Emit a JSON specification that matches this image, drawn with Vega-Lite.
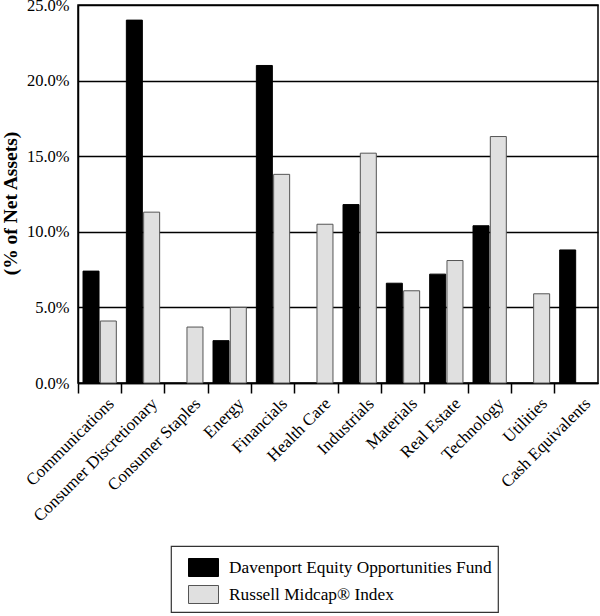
{
  "$schema": "https://vega.github.io/schema/vega-lite/v6.json",
  "width": 520,
  "height": 378,
  "autosize": {"type": "none"},
  "padding": {"left": 78, "top": 5, "right": 2, "bottom": 233},
  "background": "white",
  "config": {
    "view": {"stroke": "black", "strokeWidth": 1.5},
    "font": "Liberation Serif",
    "legend": {
      "orient": "none",
      "legendX": 93,
      "legendY": 541,
      "padding": 6,
      "strokeColor": "#333333",
      "strokeWidth": 1.2,
      "symbolSize": 900,
      "symbolOffset": 11,
      "symbolStrokeWidth": 1,
      "rowPadding": 0,
      "labelOffset": 10,
      "labelFont": "Liberation Serif",
      "labelFontSize": 17.3,
      "labelColor": "black",
      "labelLimit": 400
    }
  },
  "data": {
    "values": [
      {"Category": "Communications", "Series": "Davenport Equity Opportunities Fund", "Value": 7.4},
      {"Category": "Communications", "Series": "Russell Midcap® Index", "Value": 4.1},
      {"Category": "Consumer Discretionary", "Series": "Davenport Equity Opportunities Fund", "Value": 24.0},
      {"Category": "Consumer Discretionary", "Series": "Russell Midcap® Index", "Value": 11.3},
      {"Category": "Consumer Staples", "Series": "Russell Midcap® Index", "Value": 3.7},
      {"Category": "Energy", "Series": "Davenport Equity Opportunities Fund", "Value": 2.8},
      {"Category": "Energy", "Series": "Russell Midcap® Index", "Value": 5.0},
      {"Category": "Financials", "Series": "Davenport Equity Opportunities Fund", "Value": 21.0},
      {"Category": "Financials", "Series": "Russell Midcap® Index", "Value": 13.8},
      {"Category": "Health Care", "Series": "Russell Midcap® Index", "Value": 10.5},
      {"Category": "Industrials", "Series": "Davenport Equity Opportunities Fund", "Value": 11.8},
      {"Category": "Industrials", "Series": "Russell Midcap® Index", "Value": 15.2},
      {"Category": "Materials", "Series": "Davenport Equity Opportunities Fund", "Value": 6.6},
      {"Category": "Materials", "Series": "Russell Midcap® Index", "Value": 6.1},
      {"Category": "Real Estate", "Series": "Davenport Equity Opportunities Fund", "Value": 7.2},
      {"Category": "Real Estate", "Series": "Russell Midcap® Index", "Value": 8.1},
      {"Category": "Technology", "Series": "Davenport Equity Opportunities Fund", "Value": 10.4},
      {"Category": "Technology", "Series": "Russell Midcap® Index", "Value": 16.3},
      {"Category": "Utilities", "Series": "Russell Midcap® Index", "Value": 5.9},
      {"Category": "Cash Equivalents", "Series": "Davenport Equity Opportunities Fund", "Value": 8.8}
    ]
  },
  "mark": {"type": "bar", "strokeWidth": 1},
  "encoding": {
    "x": {
      "field": "Category",
      "type": "nominal",
      "sort": null,
      "scale": {"paddingInner": 0, "paddingOuter": 0},
      "axis": {
        "title": null,
        "bandPosition": 0,
        "labelAngle": -45,
        "labelAlign": "right",
        "labelBaseline": "top",
        "labelOffset": 6,
        "labelPadding": 2,
        "labelOverlap": false,
        "labelFlush": false,
        "labelFont": "Liberation Serif",
        "labelFontSize": 17,
        "labelColor": "black",
        "tickSize": 10,
        "tickColor": "black",
        "tickWidth": 1.5,
        "domainColor": "black",
        "domainWidth": 1.5,
        "grid": false
      }
    },
    "xOffset": {
      "field": "Series",
      "type": "nominal",
      "scale": {
        "domain": ["Davenport Equity Opportunities Fund", "Russell Midcap® Index"],
        "paddingInner": 0.075,
        "paddingOuter": 0.29
      }
    },
    "y": {
      "field": "Value",
      "type": "quantitative",
      "scale": {"domain": [0, 25], "nice": false},
      "axis": {
        "title": "(% of Net Assets)",
        "values": [0, 5, 10, 15, 20, 25],
        "labelExpr": "format(datum.value, '.1f') + '%'",
        "labelFont": "Liberation Serif",
        "labelFontSize": 16.5,
        "labelColor": "black",
        "labelPadding": 9,
        "ticks": false,
        "domainColor": "black",
        "domainWidth": 1.5,
        "grid": true,
        "gridColor": "black",
        "gridWidth": 1.3,
        "gridOpacity": 1,
        "titleFont": "Liberation Serif",
        "titleFontSize": 19.5,
        "titleFontWeight": "bold",
        "titleColor": "black",
        "titleX": -68,
        "titleY": 198,
        "titleBaseline": "middle",
        "titleAngle": -90
      }
    },
    "fill": {
      "field": "Series",
      "type": "nominal",
      "scale": {
        "domain": ["Davenport Equity Opportunities Fund", "Russell Midcap® Index"],
        "range": ["#000000", "#e0e0e0"]
      },
      "legend": {"title": null, "symbolType": "M-1,-0.6H1V0.6H-1Z"}
    },
    "stroke": {
      "field": "Series",
      "type": "nominal",
      "scale": {
        "domain": ["Davenport Equity Opportunities Fund", "Russell Midcap® Index"],
        "range": ["#000000", "#555555"]
      },
      "legend": {"title": null, "symbolType": "M-1,-0.6H1V0.6H-1Z"}
    }
  }
}
